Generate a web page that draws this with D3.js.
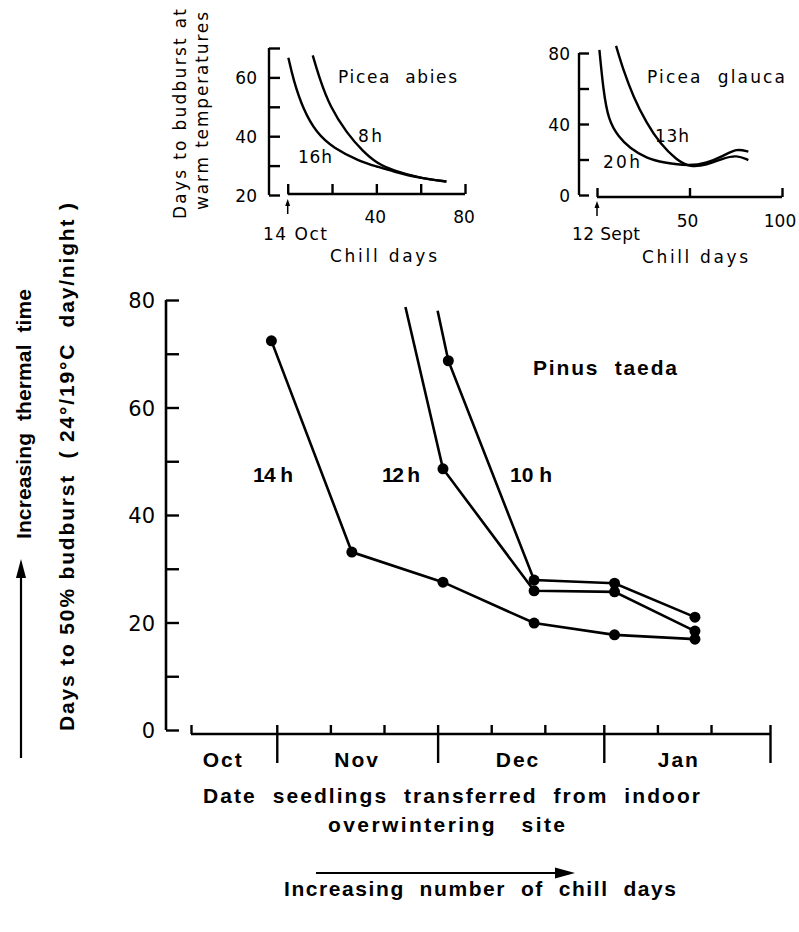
<!DOCTYPE html>
<html><head><meta charset="utf-8">
<script src="https://cdn.jsdelivr.net/npm/d3@7"></script>
<style>
body{margin:0;background:#fff;}
svg{display:block;}
text{white-space:pre;}
.ins{font-family:"DejaVu Sans",sans-serif;font-size:17px;fill:#000;}
.mainlbl{font-family:"Liberation Sans",Arial,sans-serif;font-weight:bold;font-size:21px;fill:#000;}
</style>
</head><body>
<script>
// ---------- DATA ----------
// Inset A: Picea abies (chill days from 14 Oct, days to budburst)
const abiesChill16 = [0.3, 2.5, 7, 13, 20.5, 32.6, 40.2, 47.6, 59.6, 71.6];
const abiesDays16  = [66.7, 59.3, 49, 41.1, 36, 31.4, 29.7, 28, 25.7, 24.6];
const abiesChill8  = [11.3, 14.5, 19, 26.6, 34, 40.2, 47.6, 59.6, 71.6];
const abiesDays8   = [67.5, 59.3, 50.2, 41.1, 34.8, 30.8, 28.3, 25.8, 24.6];
const abiesYTicks = [20, 40, 60];
const abiesXTicks = [0, 20, 40, 60, 80];
const abiesXLabels = [40, 80];

// Inset B: Picea glauca (chill days from 12 Sept)
const glaucaChill20 = [1.3, 3.4, 6.1, 11.5, 17.8, 26.8, 35.9, 49.9, 59.3, 68.3, 75.5, 81.8];
const glaucaDays20  = [81.7, 59.2, 42.3, 32.9, 26.3, 20.7, 18.2, 16.3, 17.9, 22, 26.3, 24.4];
const glaucaChill13 = [10.3, 14.2, 19.6, 26.8, 34, 43, 50.3, 59.3, 68.3, 75.5, 81.8];
const glaucaDays13  = [84, 70.4, 55.4, 40.4, 29.1, 19.7, 15.6, 16.9, 20.7, 22.5, 19.7];
const glaucaYTicks = [0, 40, 80];
const glaucaXTicks = [0, 50, 100];
const glaucaXLabels = [50, 100];

// Main: Pinus taeda (date transferred, days to 50% budburst)
const dates14 = ["1980-10-31", "1980-11-15", "1980-12-02", "1980-12-19", "1981-01-03", "1981-01-18"];
const days14  = [72.4, 33.1, 27.5, 19.9, 17.7, 16.9];
const dates12 = ["1980-11-25", "1980-12-02", "1980-12-19", "1981-01-03", "1981-01-18"];
const days12  = [78.7, 48.6, 25.9, 25.7, 18.4];
const dates10 = ["1980-12-01", "1980-12-03", "1980-12-19", "1981-01-03", "1981-01-18"];
const days10  = [78.0, 68.7, 27.9, 27.3, 21.0];
const mainYTicks = [0, 20, 40, 60, 80];
const monthNames = ["Oct", "Nov", "Dec", "Jan"];
const monthLabelDates = ["1980-10-22", "1980-11-16", "1980-12-16", "1981-01-15"];
const monthStarts = ["1980-11-01", "1980-12-01", "1981-01-01", "1981-02-01"];
const minorTickDates = ["1980-11-11", "1980-11-21", "1980-12-11", "1980-12-21", "1981-01-11", "1981-01-21"];

// ---------- DRAW ----------
const W = 799, H = 932;
const svg = d3.select("body").append("svg").attr("width", W).attr("height", H);
const parse = d3.timeParse("%Y-%m-%d");
const zip = (a, b) => a.map((v, i) => [v, b[i]]);

function styleAxis(g){
  g.selectAll("path.domain").remove();
  g.selectAll("line").attr("stroke", "#000").attr("stroke-width", 2.4);
}
function txt(g, cls, x, y, s, len, anchor){
  const t = g.append("text").attr("class", cls).attr("x", x).attr("y", y).text(s);
  if (len) t.attr("textLength", len).attr("lengthAdjust", "spacing");
  if (anchor) t.attr("text-anchor", anchor);
  return t;
}

// ===== Inset A =====
{
  const x = d3.scaleLinear().domain([0, 80]).range([287.7, 465]);
  const y = d3.scaleLinear().domain([20, 70]).range([195, 48]);
  const g = svg.append("g");
  g.append("line").attr("x1", 269).attr("x2", 269).attr("y1", y(70)).attr("y2", y(20))
    .attr("stroke", "#000").attr("stroke-width", 2.4);
  g.append("g").attr("transform", "translate(269,0)")
    .call(d3.axisRight(y).tickValues(d3.range(20, 71, 10)).tickSize(11).tickFormat("")).call(styleAxis);
  g.selectAll(".yl").data(abiesYTicks).join("text").attr("class", "ins")
    .attr("x", 257).attr("y", d => y(d) + 7).attr("text-anchor", "end").text(d => d);
  g.append("line").attr("x1", x(0)).attr("x2", x(80)).attr("y1", 194).attr("y2", 194)
    .attr("stroke", "#000").attr("stroke-width", 2.4);
  g.append("g").attr("transform", "translate(0,194)")
    .call(d3.axisTop(x).tickValues(abiesXTicks).tickSize(10).tickFormat("")).call(styleAxis);
  g.selectAll(".xl").data(abiesXLabels).join("text").attr("class", "ins")
    .attr("x", d => x(d) - 1).attr("y", 223).attr("text-anchor", "middle").text(d => d);
  g.append("line").attr("x1", x(0)).attr("x2", x(0)).attr("y1", 214).attr("y2", 203)
    .attr("stroke", "#000").attr("stroke-width", 1.5);
  g.append("path").attr("d", `M${x(0)-2.5},206 L${x(0)},199 L${x(0)+2.5},206 Z`).attr("fill", "#000");
  txt(g, "ins", 263, 240, "14 Oct", 64);
  txt(g, "ins", 330, 262, "Chill days", 107);
  const line = d3.line().x(d => x(d[0])).y(d => y(d[1])).curve(d3.curveBasis);
  [zip(abiesChill16, abiesDays16), zip(abiesChill8, abiesDays8)].forEach(s =>
    g.append("path").attr("d", line(s)).attr("fill", "none").attr("stroke", "#000").attr("stroke-width", 2.4));
  txt(g, "ins", 338, 83, "Picea  abies", 119);
  txt(g, "ins", 358, 142, "8h", 24);
  txt(g, "ins", 298, 163, "16h", 34);
  g.append("text").attr("class", "ins").attr("transform", "translate(186,114) rotate(-90)")
    .attr("text-anchor", "middle").attr("textLength", 210).text("Days to budburst at");
  g.append("text").attr("class", "ins").attr("transform", "translate(208,111) rotate(-90)")
    .attr("text-anchor", "middle").attr("textLength", 198).text("warm temperatures");
}

// ===== Inset B =====
{
  const x = d3.scaleLinear().domain([0, 100]).range([597, 782]);
  const y = d3.scaleLinear().domain([0, 80]).range([195, 53]);
  const g = svg.append("g");
  g.append("line").attr("x1", 579).attr("x2", 579).attr("y1", y(80)).attr("y2", y(0))
    .attr("stroke", "#000").attr("stroke-width", 2.4);
  g.append("g").attr("transform", "translate(579,0)")
    .call(d3.axisRight(y).tickValues(d3.range(0, 81, 20)).tickSize(10).tickFormat("")).call(styleAxis);
  g.selectAll(".yl").data(glaucaYTicks).join("text").attr("class", "ins")
    .attr("x", 570).attr("y", d => y(d) + 7).attr("text-anchor", "end").text(d => d);
  g.append("line").attr("x1", x(0)).attr("x2", x(100)).attr("y1", 197).attr("y2", 197)
    .attr("stroke", "#000").attr("stroke-width", 2.4);
  g.append("g").attr("transform", "translate(0,197)")
    .call(d3.axisTop(x).tickValues(glaucaXTicks).tickSize(9).tickFormat("")).call(styleAxis);
  g.selectAll(".xl").data(glaucaXLabels).join("text").attr("class", "ins")
    .attr("x", d => x(d) - 2).attr("y", 227).attr("text-anchor", "middle").text(d => d);
  g.append("line").attr("x1", x(0)).attr("x2", x(0)).attr("y1", 216).attr("y2", 205)
    .attr("stroke", "#000").attr("stroke-width", 1.5);
  g.append("path").attr("d", `M${x(0)-2.5},208 L${x(0)},201 L${x(0)+2.5},208 Z`).attr("fill", "#000");
  txt(g, "ins", 572, 240, "12 Sept", 68);
  txt(g, "ins", 642, 263, "Chill days", 106);
  const line = d3.line().x(d => x(d[0])).y(d => y(d[1])).curve(d3.curveBasis);
  [zip(glaucaChill20, glaucaDays20), zip(glaucaChill13, glaucaDays13)].forEach(s =>
    g.append("path").attr("d", line(s)).attr("fill", "none").attr("stroke", "#000").attr("stroke-width", 2.4));
  txt(g, "ins", 647, 83, "Picea  glauca", 138);
  txt(g, "ins", 655, 142, "13h", 34);
  txt(g, "ins", 603, 168, "20h", 37);
}

// ===== Main chart =====
{
  const x = d3.scaleTime().domain([parse("1980-10-16"), parse("1981-02-01")]).range([191, 770]);
  const y = d3.scaleLinear().domain([0, 80]).range([730, 300]);
  const g = svg.append("g");
  const axisX = 166, axisY = 734;
  g.append("line").attr("x1", axisX).attr("x2", axisX).attr("y1", y(80)).attr("y2", y(0))
    .attr("stroke", "#000").attr("stroke-width", 2.6);
  g.append("g").attr("transform", `translate(${axisX},0)`)
    .call(d3.axisRight(y).tickValues(d3.range(0, 81, 10)).tickSize(13).tickFormat("")).call(styleAxis);
  g.selectAll(".yl").data(mainYTicks).join("text").attr("class", "ins")
    .style("font-size", "21px").attr("x", 155).attr("y", d => y(d) + 8).attr("text-anchor", "end").text(d => d);

  g.append("line").attr("x1", x(parse("1980-10-16"))).attr("x2", x(parse("1981-02-01")))
    .attr("y1", axisY).attr("y2", axisY).attr("stroke", "#000").attr("stroke-width", 2.6);
  g.append("g").attr("transform", `translate(0,${axisY})`)
    .call(d3.axisTop(x).tickValues(minorTickDates.map(parse).concat([parse("1980-10-16")])).tickSize(9).tickFormat(""))
    .call(styleAxis);
  g.append("g").attr("transform", `translate(0,${axisY})`)
    .call(d3.axisBottom(x).tickValues(monthStarts.map(parse)).tickSize(29).tickFormat("")).call(styleAxis);
  g.append("g").attr("transform", `translate(0,${axisY})`)
    .call(d3.axisTop(x).tickValues(monthStarts.map(parse)).tickSize(9).tickFormat("")).call(styleAxis);
  g.selectAll(".ml").data(monthNames).join("text").attr("class", "mainlbl")
    .style("letter-spacing", "2px")
    .attr("x", (d, i) => x(parse(monthLabelDates[i]))).attr("y", 767)
    .attr("text-anchor", "middle").text(d => d);

  const line = d3.line().x(d => x(parse(d[0]))).y(d => y(d[1]));
  const series = [
    {d: dates14, v: days14, skipFirst: false},
    {d: dates12, v: days12, skipFirst: true},
    {d: dates10, v: days10, skipFirst: true}
  ];
  series.forEach(s => {
    const pts = zip(s.d, s.v);
    g.append("path").attr("d", line(pts)).attr("fill", "none").attr("stroke", "#000").attr("stroke-width", 2.6);
    g.selectAll(null).data(s.skipFirst ? pts.slice(1) : pts).join("circle")
      .attr("cx", d => x(parse(d[0]))).attr("cy", d => y(d[1])).attr("r", 5.5).attr("fill", "#000");
  });

  txt(g, "mainlbl", 533, 375, "Pinus  taeda", 144);
  txt(g, "mainlbl", 253, 482, "14 h", 40);
  txt(g, "mainlbl", 382, 482, "12 h", 38);
  txt(g, "mainlbl", 510, 482, "10 h", 42);

  txt(g, "mainlbl", 203, 803, "Date  seedlings  transferred  from  indoor", 497);
  txt(g, "mainlbl", 328, 832, "overwintering   site", 237);
  g.append("line").attr("x1", 316).attr("x2", 560).attr("y1", 873).attr("y2", 873).attr("stroke", "#000").attr("stroke-width", 2.2);
  g.append("path").attr("d", "M555,867.5 L575,873 L555,878.5 Z").attr("fill", "#000");
  txt(g, "mainlbl", 284, 896, "Increasing  number  of  chill  days", 392);

  g.append("text").attr("class", "mainlbl").attr("transform", "translate(74,467) rotate(-90)")
    .attr("text-anchor", "middle").attr("textLength", 528)
    .text("Days to 50% budburst  ( 24°/19°C  day/night )");
  g.append("text").attr("class", "mainlbl").attr("transform", "translate(31,414) rotate(-90)")
    .attr("text-anchor", "middle").attr("textLength", 250)
    .text("Increasing  thermal  time");
  g.append("line").attr("x1", 21).attr("x2", 21).attr("y1", 758).attr("y2", 572).attr("stroke", "#000").attr("stroke-width", 2.2);
  g.append("path").attr("d", "M16,578 L21,559 L26,578 Z").attr("fill", "#000");
}
</script>
</body></html>
